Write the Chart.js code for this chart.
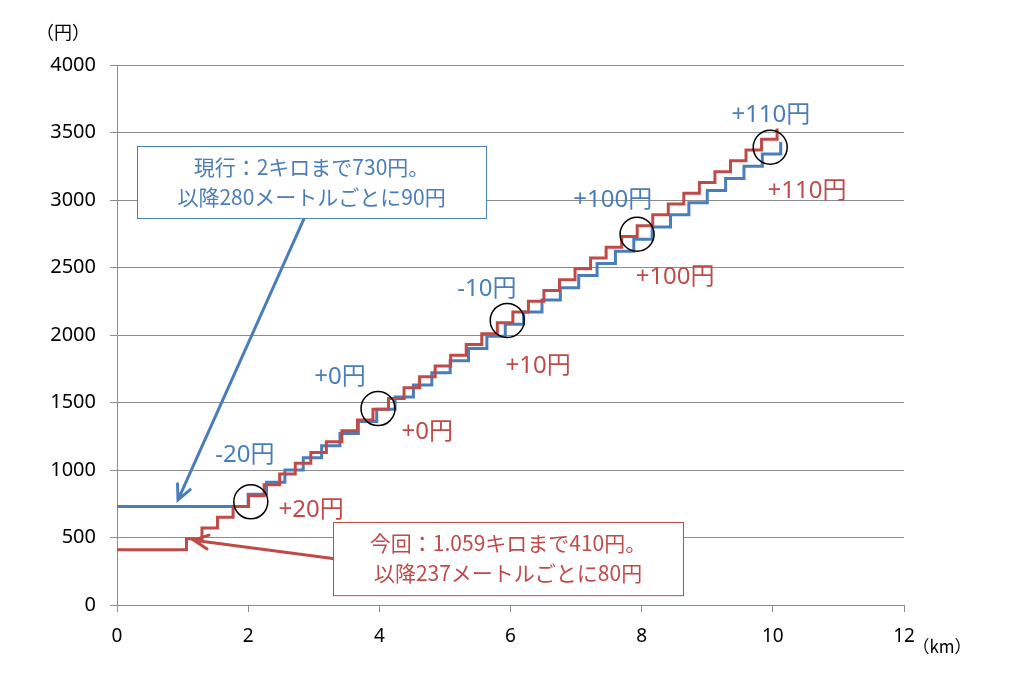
<!DOCTYPE html>
<html>
<head>
<meta charset="utf-8">
<script src="https://cdn.jsdelivr.net/npm/chart.js@4"></script>
<style>
  html, body { margin: 0; padding: 0; background: #fff; }
  #wrap { position: relative; width: 1024px; height: 687px; }
</style>
</head>
<body>
<div id="wrap"><canvas id="fare"></canvas></div>
<script>
// 現行: 2キロまで730円、以降280mごとに90円 (km / yen at each step)
const currentKm = [0, 2.00, 2.28, 2.56, 2.84, 3.12, 3.40, 3.68, 3.96, 4.24, 4.52, 4.80, 5.08, 5.36, 5.64,
  5.92, 6.20, 6.48, 6.76, 7.04, 7.32, 7.60, 7.88, 8.16, 8.44, 8.72, 9.00, 9.28, 9.56, 9.84, 10.12];
const currentYen = [730, 820, 910, 1000, 1090, 1180, 1270, 1360, 1450, 1540, 1630, 1720, 1810, 1900, 1990,
  2080, 2170, 2260, 2350, 2440, 2530, 2620, 2710, 2800, 2890, 2980, 3070, 3160, 3250, 3340, 3430];

// 今回: 1.059キロまで410円、以降237mごとに80円
const newKm = [0, 1.059, 1.296, 1.533, 1.770, 2.007, 2.244, 2.481, 2.718, 2.955, 3.192, 3.429, 3.666, 3.903,
  4.140, 4.377, 4.614, 4.851, 5.088, 5.325, 5.562, 5.799, 6.036, 6.273, 6.510, 6.747, 6.984, 7.221, 7.458,
  7.695, 7.932, 8.169, 8.406, 8.643, 8.880, 9.117, 9.354, 9.591, 9.828, 10.065];
const newYen = [410, 490, 570, 650, 730, 810, 890, 970, 1050, 1130, 1210, 1290, 1370, 1450,
  1530, 1610, 1690, 1770, 1850, 1930, 2010, 2090, 2170, 2250, 2330, 2410, 2490, 2570, 2650,
  2730, 2810, 2890, 2970, 3050, 3130, 3210, 3290, 3370, 3450, 3530];

// axis ticks
const xTicks = [0, 2, 4, 6, 8, 10, 12];
const yTicks = [0, 500, 1000, 1500, 2000, 2500, 3000, 3500, 4000];

// comparison points (circled) and their difference labels
const circleKm = [2.04, 3.98, 5.95, 7.93, 9.96];
const circleYen = [764, 1455, 2108, 2746, 3391];
const currentDiff = ["-20円", "+0円", "-10円", "+100円", "+110円"];
const newDiff = ["+20円", "+0円", "+10円", "+100円", "+110円"];

// callout text
const currentNote = ["現行：2キロまで730円。", "以降280メートルごとに90円"];
const newNote = ["今回：1.059キロまで410円。", "以降237メートルごとに80円"];

const BLUE = "#4a7ebb";
const RED = "#be4b48";
const GRID = "#8c8c8c";
const FONT = "'Noto Sans', 'Noto Sans CJK JP', sans-serif";
const JFONT = "'Noto Sans CJK JP', 'Noto Sans', sans-serif";

const toPts = (xs, ys) => xs.map((x, i) => ({ x, y: ys[i] }));

// label / box / arrow placement, in chart units (km, yen)
const currentDiffPos = [[1.95, 1113], [3.40, 1685], [5.64, 2338], [7.56, 2998], [9.97, 3629]];
const newDiffPos = [[2.96, 705], [4.73, 1284], [6.42, 1766], [8.51, 2427], [10.52, 3065]];

function drawArrow(ctx, x0, y0, x1, y1, color) {
    const ang = Math.atan2(y1 - y0, x1 - x0);
    const len = 16, spread = 0.45;
    ctx.strokeStyle = color;
    ctx.lineWidth = 3;
    ctx.lineCap = "round";
    ctx.beginPath();
    ctx.moveTo(x0, y0);
    ctx.lineTo(x1, y1);
    ctx.moveTo(x1 - len * Math.cos(ang - spread), y1 - len * Math.sin(ang - spread));
    ctx.lineTo(x1, y1);
    ctx.lineTo(x1 - len * Math.cos(ang + spread), y1 - len * Math.sin(ang + spread));
    ctx.stroke();
}

function drawBox(ctx, left, top, right, bottom, lines, color) {
    ctx.fillStyle = "#fff";
    ctx.fillRect(left, top, right - left, bottom - top);
    ctx.strokeStyle = color;
    ctx.lineWidth = 1;
    ctx.strokeRect(Math.round(left) + 0.5, Math.round(top) + 0.5, right - left, bottom - top);
    ctx.fillStyle = color;
    ctx.font = "21px " + JFONT;
    ctx.textAlign = "center";
    ctx.textBaseline = "middle";
    const cx = (left + right) / 2;
    const mid = (top + bottom) / 2;
    ctx.fillText(lines[0], cx, mid - 15);
    ctx.fillText(lines[1], cx, mid + 15);
}

const notesPlugin = {
    id: "notes",
    afterDatasetsDraw(chart) {
        const { ctx, scales: { x, y } } = chart;
        const px = v => x.getPixelForValue(v);
        const py = v => y.getPixelForValue(v);
        ctx.save();

        // difference labels
        ctx.font = "24px " + FONT;
        ctx.textAlign = "center";
        ctx.textBaseline = "middle";
        ctx.fillStyle = BLUE;
        currentDiff.forEach((t, i) => ctx.fillText(t, px(currentDiffPos[i][0]), py(currentDiffPos[i][1])));
        ctx.fillStyle = RED;
        newDiff.forEach((t, i) => ctx.fillText(t, px(newDiffPos[i][0]), py(newDiffPos[i][1])));

        // arrows from callouts to the base fares
        drawArrow(ctx, px(2.85), py(2860), px(0.93), py(779), BLUE);
        drawArrow(ctx, px(3.29), py(344), px(1.17), py(480), RED);

        // callout boxes
        drawBox(ctx, px(0.305), py(3400), px(5.627), py(2867), currentNote, BLUE);
        drawBox(ctx, px(3.294), py(616), px(8.631), py(74), newNote, RED);

        // unit labels
        ctx.fillStyle = "#000";
        ctx.font = "18px " + JFONT;
        ctx.fillText("（円）", 63, 32);
        ctx.font = "17px " + JFONT;
        ctx.fillText("（km）", 942, 647);
        ctx.restore();
    }
};

new Chart(document.getElementById("fare"), {
    type: "line",
    data: {
        datasets: [
            {
                label: "circles",
                data: toPts(circleKm, circleYen),
                showLine: false,
                pointRadius: 17,
                pointHoverRadius: 17,
                pointBorderWidth: 1.5,
                pointBorderColor: "#000",
                pointBackgroundColor: "rgba(0,0,0,0)",
                order: 0
            },
            {
                label: "今回",
                data: toPts(newKm, newYen),
                borderColor: RED,
                borderWidth: 3,
                pointRadius: 0,
                stepped: "before",
                fill: false,
                order: 1
            },
            {
                label: "現行",
                data: toPts(currentKm, currentYen),
                borderColor: BLUE,
                borderWidth: 3,
                pointRadius: 0,
                stepped: "before",
                fill: false,
                order: 2
            }
        ]
    },
    options: {
        responsive: true,
        maintainAspectRatio: false,
        animation: false,
        events: [],
        layout: { padding: { left: 0, top: 65, right: 120, bottom: 0 } },
        plugins: { legend: { display: false }, tooltip: { enabled: false } },
        scales: {
            x: {
                type: "linear",
                min: 0,
                max: 12,
                afterBuildTicks: s => { s.ticks = xTicks.map(v => ({ value: v })); },
                afterFit: s => { s.height = 82; },
                grid: { drawOnChartArea: false, drawTicks: true, tickLength: 7, color: GRID },
                border: { display: true, color: GRID, width: 1 },
                ticks: { color: "#000", padding: 13, font: { family: FONT, size: 19 }, maxRotation: 0,
                         callback: v => String(v) }
            },
            y: {
                type: "linear",
                min: 0,
                max: 4000,
                afterBuildTicks: s => { s.ticks = yTicks.map(v => ({ value: v })); },
                afterFit: s => { s.width = 117; },
                grid: { color: GRID, tickLength: 7, lineWidth: 1 },
                border: { display: true, color: GRID, width: 1 },
                ticks: { color: "#000", padding: 14, font: { family: FONT, size: 20 },
                         callback: v => String(v) }
            }
        }
    },
    plugins: [notesPlugin]
});
</script>
</body>
</html>
